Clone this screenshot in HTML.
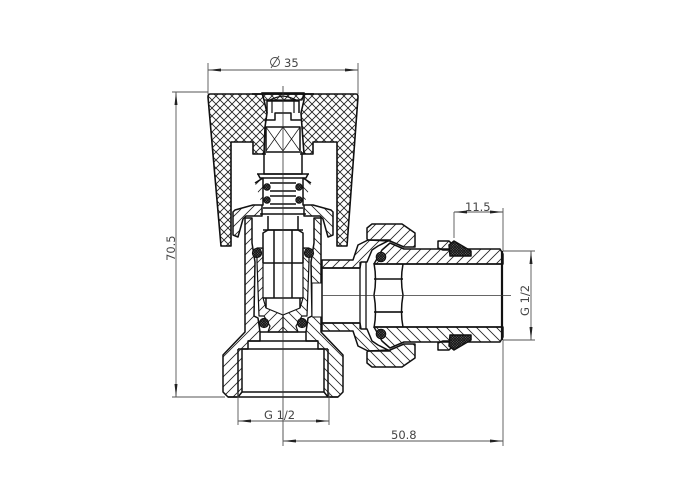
<!DOCTYPE html>
<html><head><meta charset="utf-8"><style>
html,body{margin:0;padding:0;background:#fff}
svg{display:block}
text{font-family:"DejaVu Sans","Liberation Sans",sans-serif;font-size:11.5px;fill:#444}
</style></head><body>
<svg width="700" height="500" viewBox="0 0 700 500" xmlns="http://www.w3.org/2000/svg">
<defs>
<pattern id="h" width="10" height="10" patternUnits="userSpaceOnUse"><path d="M-1,11 L11,-1 M-1,1 L1,-1 M9,11 L11,9" stroke="#222" stroke-width=".8"/></pattern>
<pattern id="x" width="8" height="8" patternUnits="userSpaceOnUse"><path d="M0,0L8,8M8,0L0,8" stroke="#222" stroke-width=".9"/></pattern>
<pattern id="d" width="2.6" height="2.6" patternUnits="userSpaceOnUse"><rect width="2.6" height="2.6" fill="#777"/><path d="M0,0L2.6,2.6M2.6,0L0,2.6" stroke="#111" stroke-width=".9"/></pattern>
<g id="half" stroke="#111" stroke-width="1.5" stroke-linejoin="round" fill="none">
<!-- bonnet -->
<path d="M255,183L263,178V205L253,205L235,210L233,212V235L238,237L243,219L246,216L262,216V205" fill="url(#h)" stroke-width="1.5"/>
<path d="M257,174H283M258,174L260,178H283M263,178H283" />
<!-- stem rings -->
<path d="M270,183H283M270,191H283M270,196H283M270,204H283M263,208H283M260,214H283" />
<circle cx="267" cy="187" r="3.200" fill="url(#d)" stroke-width="1"/>
<circle cx="267" cy="200" r="3.200" fill="url(#d)" stroke-width="1"/>
<!-- stem top -->
<path d="M264,152V174H283M264,152H283M266,151V127H283M262,154H266" />
<path d="M266,127L283,151M283,127L266,151" stroke-width=".7"/>
<path d="M267,113V101H283M265,120H275V113H283" />
<path d="M268,101Q275,97 283,96M272,101V113" stroke-width="1.200"/>
<path d="M268,216V230M263,230H283" />
<!-- body wall -->
<path d="M245,218H252V243L255,262L254,316L258,318L260,332V341H248V349H242V392L238,397H228L223,392V355L245,332Z" fill="url(#h)"/>
<path d="M238,349V397M242,349H283M242,392H283M228,397H283M248,341H283M260,332H283" />
<path d="M238,349H242" />
<!-- hatched core -->
<path d="M257,248H263V298L266,308L283,315V332H268L270,326L264,316H259L257,262Z" fill="url(#h)" stroke-width="1.200"/>
<!-- hex -->
<path d="M263,263V233L268,230H283M263,263H283M263,298H283M266,308V298M274,230V298" />
<circle cx="257" cy="253" r="4.600" fill="url(#d)" stroke-width="1"/>
<circle cx="264" cy="323" r="4.600" fill="url(#d)" stroke-width="1"/>
</g>
<g id="arm" stroke="#111" stroke-width="1.500" stroke-linejoin="round">
<path d="M322,268V260H353L358,245L368,240H390L378,246L372,250L367,262H361L360,268Z" fill="url(#h)"/>
<path d="M367,239V228L372,224H402L415,233V247H404L390,241L368,240Z" fill="url(#h)"/>
<path d="M374,264L382,250L390,243L404,249H500L503,254V264Z" fill="url(#h)"/>
<circle cx="381" cy="257" r="4.800" fill="url(#d)" stroke-width="1"/>
<path d="M438,248V241H449L454,246L450,250H443Z" fill="url(#h)"/>
<path d="M449,245L454,241L471,251V256H450Z" fill="url(#d)"/>
<path d="M322,268H360M374,279H403" fill="none"/>
</g>
</defs>

<!-- knob -->
<path d="M210,94H356Q358,94 358,97L347,246H337V142H313V154H304L302,127L301,113L304,100L304,93H262L264,100L267,113L265,127L264,154H253V142H231V246H221L208,97Q208,94 210,94Z" fill="url(#x)" stroke="#111" stroke-width="1.600" stroke-linejoin="round"/>
<path d="M262,93L264,100H302L304,93Z" fill="url(#x)" stroke="#111" stroke-width="1.300"/>
<path d="M252,94H314" stroke="#111" stroke-width="1.800"/>

<use href="#half"/>
<use href="#half" transform="translate(566,0) scale(-1,1)"/>
<!-- opening through right wall -->
<rect x="312" y="283" width="10" height="34" fill="#fff"/>
<path d="M312,283H322M312,317H322M312,283V317" fill="none" stroke="#111" stroke-width="1"/>

<use href="#arm"/>
<use href="#arm" transform="translate(0,591) scale(1,-1)"/>

<!-- bore -->
<path d="M322,268V323" stroke="#111" stroke-width="1.500"/>
<path d="M360,262V329M366,262V329" stroke="#111" stroke-width="1.300" fill="none"/>
<path d="M374,263Q377,280 374,295Q377,312 374,328M403,264Q400,280 403,295Q400,312 403,327" fill="none" stroke="#111" stroke-width="1.500"/>
<path d="M374,264H503M374,327H503" stroke="#111" stroke-width="1.600"/>
<path d="M375,312H403" stroke="#111" stroke-width="1.300"/>
<path d="M502,251V340" stroke="#111" stroke-width="2.200"/>

<!-- centre lines -->
<g stroke="#333" stroke-width=".8" fill="none">
<path d="M283,86V440"/>
<path d="M322,295.500H511"/>
</g>

<!-- dimensions -->
<g stroke="#555" stroke-width=".9" fill="none">
<path d="M208,63V94M358,63V94M208,70H358"/>
<path d="M172,92H208M172,397H225M176,92V397"/>
<path d="M238,392V425M329,392V425M238,421H329"/>
<path d="M283,430V446M503,340V446M283,441H503"/>
<path d="M454,212V238M503,208V251M454,212H503"/>
<path d="M503,251H535M503,340H535M531,251V340"/>
</g>
<g fill="#222">
<path d="M208,70l13,-1.500v3zM358,70l-13,-1.500v3z"/>
<path d="M176,92l-1.500,13h3zM176,397l-1.500,-13h3z"/>
<path d="M238,421l13,-1.500v3zM329,421l-13,-1.500v3z"/>
<path d="M283,441l13,-1.500v3zM503,441l-13,-1.500v3z"/>
<path d="M454,212l13,-1.500v3zM503,212l-13,-1.500v3z"/>
<path d="M531,251l-1.500,13h3zM531,340l-1.500,-13h3z"/>
</g>
<text x="284" y="67">35</text>
<g fill="none" stroke="#444" stroke-width=".9"><circle cx="275" cy="62" r="4.500"/><path d="M271,68L279,56"/></g>
<text x="264" y="419">G 1/2</text>
<text x="391" y="439">50.8</text>
<text x="465" y="211">11.5</text>
<text transform="translate(175,261) rotate(-90)">70.5</text>
<text transform="translate(529,316) rotate(-90)">G 1/2</text>
</svg>
</body></html>
